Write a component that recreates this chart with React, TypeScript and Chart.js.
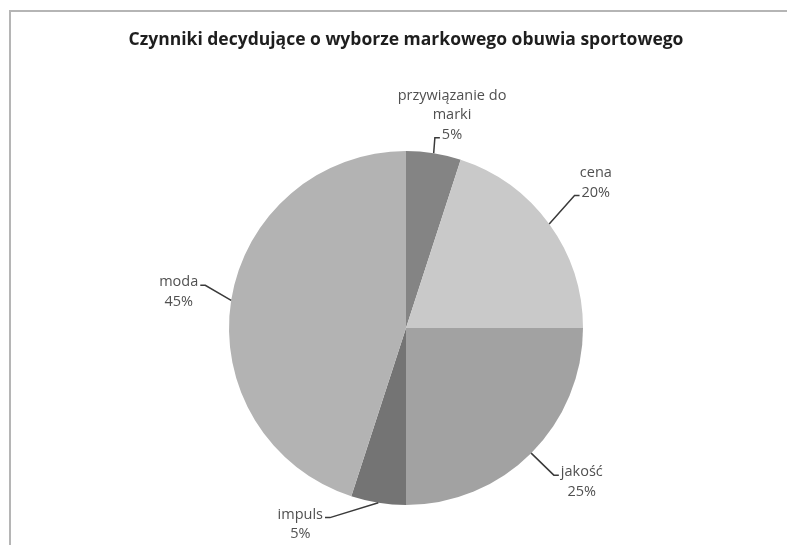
import React, { useEffect, useRef } from "react";
import { Chart, registerables } from "chart.js";

Chart.register(...registerables);

const titleText = "Czynniki decydujące o wyborze markowego obuwia sportowego";
const categories = ["przywiązanie do marki", "cena", "jakość", "impuls", "moda"];
const categoryLines = [["przywiązanie do", "marki"], ["cena"], ["jakość"], ["impuls"], ["moda"]];
const values = [5, 20, 25, 5, 45];
const percentLabels = ["5%", "20%", "25%", "5%", "45%"];
const sliceColors = ["#848484", "#c9c9c9", "#a2a2a2", "#747474", "#b3b3b3"];

// label layout: direction (deg clockwise from 12 o'clock), distance in radii, which text line the leader meets
const labelPlacement = [
  { angle: 12.2, dist: 1.23, attach: "last" },
  { angle: 52.6, dist: 1.35, attach: "last" },
  { angle: 131.2, dist: 1.32, attach: "first" },
  { angle: 208.3, dist: 1.26, attach: "first" },
  { angle: 279, dist: 1.3, attach: "first" },
];

const LABEL_FONT = 14.5;
const LINE_H = 19.5;

const labelPlugin = {
  id: "pieLabels",
  afterDatasetsDraw(chart: any) {
    const ctx = chart.ctx as CanvasRenderingContext2D;
    const meta = chart.getDatasetMeta(0);
    ctx.save();
    ctx.font = `${LABEL_FONT}px "Open Sans"`;
    ctx.textAlign = "center";
    ctx.textBaseline = "middle";
    meta.data.forEach((arc: any, i: number) => {
      const { x, y, startAngle, endAngle, outerRadius } = arc.getProps(
        ["x", "y", "startAngle", "endAngle", "outerRadius"],
        true
      );
      const mid = (startAngle + endAngle) / 2;
      const ex = x + Math.cos(mid) * outerRadius;
      const ey = y + Math.sin(mid) * outerRadius;
      const p = labelPlacement[i];
      const a = ((p.angle - 90) * Math.PI) / 180;
      const cx = x + Math.cos(a) * outerRadius * p.dist;
      const cy = y + Math.sin(a) * outerRadius * p.dist;
      const lines = [...categoryLines[i], percentLabels[i]];
      const top = cy - ((lines.length - 1) * LINE_H) / 2;
      ctx.fillStyle = "#505050";
      lines.forEach((t, k) => ctx.fillText(t, cx, top + k * LINE_H));
      const k = p.attach === "last" ? lines.length - 1 : 0;
      const w = ctx.measureText(lines[k]).width;
      const rightSide = cx > x;
      const ax = rightSide ? cx - w / 2 - 2 : cx + w / 2 + 2;
      const bx = rightSide ? ax - 5 : ax + 5;
      const ay = top + k * LINE_H + 3;
      ctx.strokeStyle = "#3a3a3a";
      ctx.lineWidth = 1.5;
      ctx.beginPath();
      ctx.moveTo(ex, ey);
      ctx.lineTo(bx, ay);
      ctx.lineTo(ax, ay);
      ctx.stroke();
    });
    ctx.restore();
  },
};

export default function App() {
  const canvasRef = useRef<HTMLCanvasElement | null>(null);

  useEffect(() => {
    if (!canvasRef.current) return;
    const chart = new Chart(canvasRef.current, {
      type: "pie",
      data: {
        labels: categories,
        datasets: [
          {
            data: values,
            backgroundColor: sliceColors,
            borderWidth: 0,
          },
        ],
      },
      options: {
        responsive: true,
        maintainAspectRatio: false,
        animation: false,
        layout: { padding: { left: 2, right: 1, top: 0, bottom: 40 } },
        plugins: {
          legend: { display: false },
          tooltip: { enabled: false },
          title: {
            display: true,
            text: titleText,
            color: "#1e1e1e",
            font: { family: '"Open Sans"', size: 17.5, weight: "bold", lineHeight: 1.2 },
            padding: { top: 17.5, bottom: 100.5 },
          },
        },
      },
      plugins: [labelPlugin],
    });
    return () => chart.destroy();
  }, []);

  return (
    <div
      style={{
        position: "fixed",
        left: 0,
        top: 0,
        width: 787,
        height: 545,
        overflow: "hidden",
        background: "#ffffff",
      }}
    >
      <div
        style={{
          position: "absolute",
          left: 9,
          top: 10,
          width: 800,
          height: 560,
          borderLeft: "2px solid #b5b5b5",
          borderTop: "2px solid #b5b5b5",
        }}
      >
        <div style={{ position: "relative", width: 789, height: 533 }}>
          <canvas ref={canvasRef} />
        </div>
      </div>
    </div>
  );
}
